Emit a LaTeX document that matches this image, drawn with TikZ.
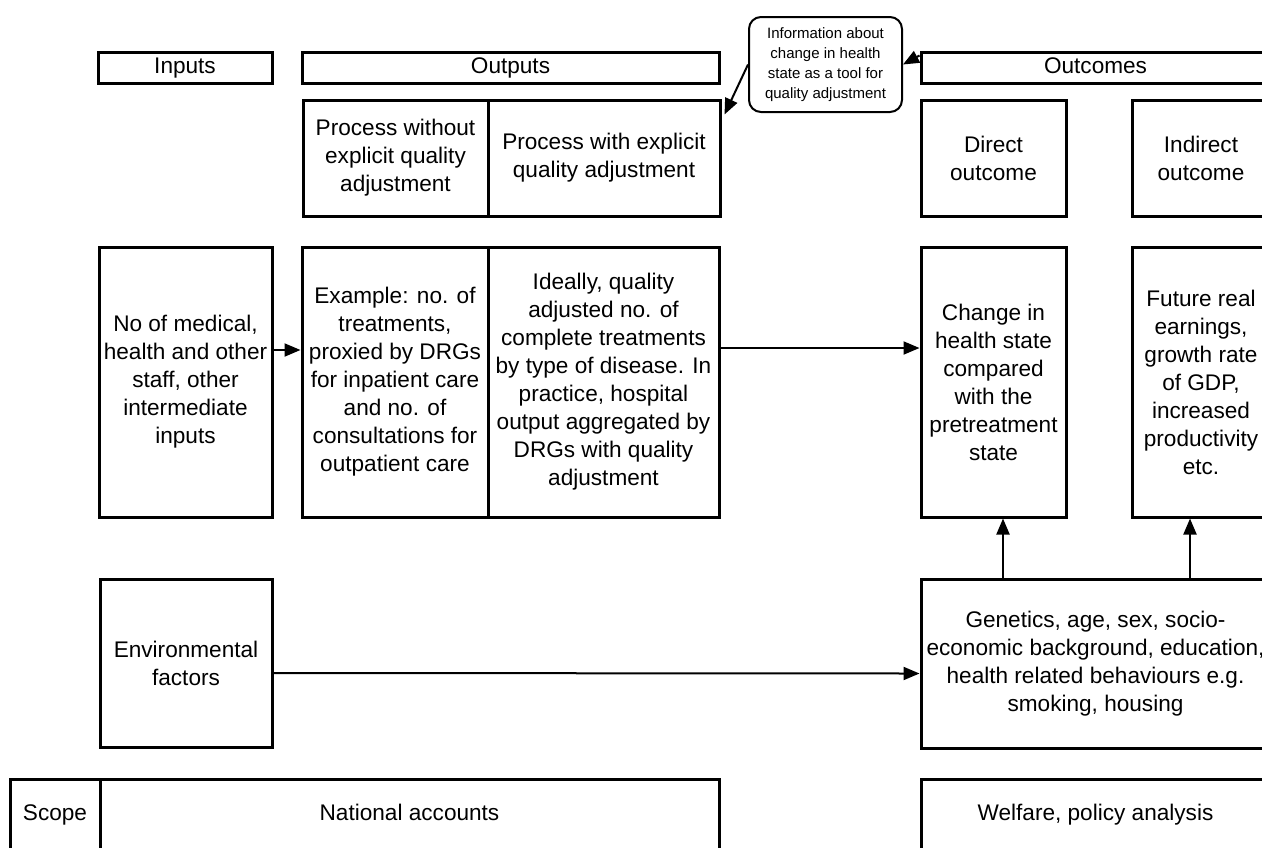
\documentclass[tikz,border=0pt]{standalone}
\usepackage{fontspec}
\setmainfont{Liberation Sans}
\usetikzlibrary{arrows.meta, calc}

\begin{document}
\begin{tikzpicture}[
    x=0.5pt, y=-0.5pt,
    >={Triangle[length=8pt, width=6.5pt]},
    box/.style={draw, line width=1.5pt, align=center, inner sep=0pt, font=\fontsize{11.3}{14}\selectfont},
    head/.style={box, minimum height=15.5pt, text height=8.1pt, text depth=2.4pt},
    scopebox/.style={box, minimum height=35.5pt, text height=8.1pt, text depth=2.4pt},
    note/.style={draw, line width=1pt, rounded corners=6pt, align=center, inner sep=0pt, minimum width=76.5pt, minimum height=47.5pt, font=\fontsize{7.5}{10}\selectfont},
    link/.style={->, line width=1pt}
]

\useasboundingbox (0,0) rectangle (1262,847);
\clip (0,0) rectangle (1262,847);

% ================= Headings =================

\node[head, minimum width=87pt] (inputs_hd) at (185,67.5) {Inputs};
\node[head, minimum width=208.5pt] (outputs_hd) at (510.5,67.5) {Outputs};
\node[head, minimum width=174.5pt] (outcomes_hd) at (1095.5,67.5) {Outcomes};

% Callout on quality adjustment
\node[note] (info) at (825.5,64.5) {Information about\\ change in health\\ state as a tool for\\ quality adjustment};

% ================= Process / outcome types =================

\node[box, minimum width=92.5pt, minimum height=58pt] (proc_plain) at (395.5,158) {Process without\\ explicit quality\\ adjustment};
\node[box, minimum width=116pt, minimum height=58pt] (proc_qa) at (604,158) {Process with explicit\\ quality adjustment};
\node[box, minimum width=72.5pt, minimum height=58pt] (direct) at (993.5,158) {Direct\\ outcome};
\node[box, minimum width=69pt, minimum height=58pt] (indirect) at (1201,158) {Indirect\\ outcome};

% ================= Measures =================

\node[box, minimum width=86.5pt, minimum height=135pt] (staff) at (185.5,382) {No of medical,\\ health and other\\ staff, other\\ intermediate\\ inputs};
\node[box, minimum width=93pt, minimum height=135pt] (example) at (395,382) {Example: no. of\\ treatments,\\ proxied by DRGs\\ for inpatient care\\ and no. of\\ consultations for\\ outpatient care};
\node[box, minimum width=115.5pt, minimum height=135pt] (ideally) at (603.5,382) {Ideally, quality\\ adjusted no. of\\ complete treatments\\ by type of disease. In\\ practice, hospital\\ output aggregated by\\ DRGs with quality\\ adjustment};
\node[box, minimum width=72.5pt, minimum height=135pt] (change) at (993.5,382) {Change in\\ health state\\ compared\\ with the\\ pretreatment\\ state};
\node[box, minimum width=69pt, minimum height=135pt] (future) at (1201,382) {Future real\\ earnings,\\ growth rate\\ of GDP,\\ increased\\ productivity\\ etc.};

% ================= Factors =================

\node[box, minimum width=86pt, minimum height=84pt] (env) at (186,663) {Environmental\\ factors};
\node[box, minimum width=174.5pt, minimum height=84.5pt] (genetics) at (1095.5,663.5) {Genetics, age, sex, socio-\\ economic background, education,\\ health related behaviours e.g.\\ smoking, housing};

% ================= Scope =================

\node[scopebox, minimum width=45pt] (scope) at (55,814.5) {Scope};
\node[scopebox, minimum width=309.5pt] (natacc) at (409.5,814.5) {National accounts};
\node[scopebox, minimum width=174.5pt] (welfare) at (1095.5,814.5) {Welfare, policy analysis};

% ================= Edges =================

\draw[link] ([yshift=16pt]staff.east) -- ([yshift=16pt]example.west);
\draw[link] ([yshift=17pt]ideally.east) -- ([yshift=17pt]change.west);
\draw[link] ([yshift=-5pt]env.east) -- ([yshift=-5pt]genetics.west);

% Factors feed both outcomes
\coordinate (up_direct) at ($(change.south)+(9.5,0)$);
\coordinate (up_indirect) at ($(future.south)+(-11,0)$);
\draw[link] (up_direct |- genetics.north) -- (up_direct);
\draw[link] (up_indirect |- genetics.north) -- (up_indirect);

% Callout arrows
\draw[link] ([yshift=-2.5pt]outcomes_hd.north west) -- (info.east);
\draw[link] (info.west) -- ([xshift=1.5pt, yshift=-8pt]proc_qa.north east);

\end{tikzpicture}
\end{document}
